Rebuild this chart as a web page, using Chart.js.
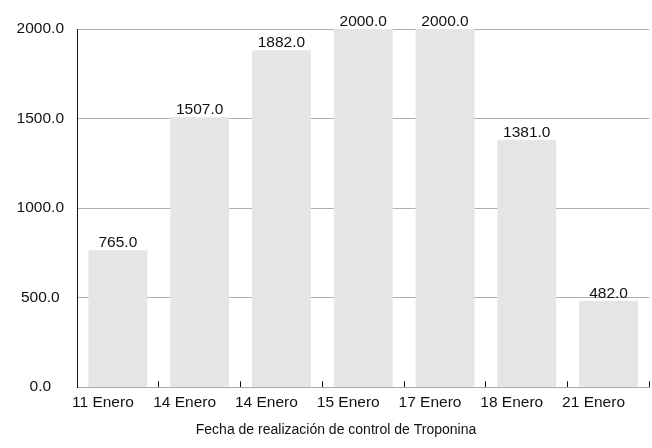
<!DOCTYPE html>
<html>
<head>
<meta charset="utf-8">
<script src="https://cdn.jsdelivr.net/npm/chart.js@4.4.0/dist/chart.umd.min.js"></script>
<style>
	html, body { margin: 0; padding: 0; background: #fff; }
	#wrap { width: 652px; height: 448px; }
</style>
</head>
<body>
<div id="wrap"><canvas id="c"></canvas></div>
<script>
// data
let fechas = ['11 Enero', '14 Enero', '14 Enero', '15 Enero', '17 Enero', '18 Enero', '21 Enero'];
let troponina = [765, 1507, 1882, 2000, 2000, 1381, 482];
let y_ticks = [0, 500, 1000, 1500, 2000];

const font = "'Liberation Sans', Arial, sans-serif";
const fsize = 15.5;

// values above each bar
let barLabels = {
	id: 'barLabels',
	afterLayout(chart) {
		// let the y labels use the left padding too (it is only there to shift the title)
		chart.scales.y.left = 0;
	},
	afterDatasetsDraw(chart) {
		let ctx = chart.ctx;
		let meta = chart.getDatasetMeta(0);
		ctx.save();
		ctx.font = fsize + 'px ' + font;
		ctx.fillStyle = '#111';
		ctx.textAlign = 'center';
		ctx.textBaseline = 'alphabetic';
		meta.data.forEach((bar, i) => {
			ctx.fillText(troponina[i].toFixed(1), bar.x, bar.y - 3);
		});
		ctx.restore();
	}
};

new Chart(document.getElementById('c'), {
	type: 'bar',
	data: {
		labels: fechas,
		datasets: [{
			data: troponina,
			backgroundColor: '#e4e5e7',
			barPercentage: 0.72,
			categoryPercentage: 1.0,
		}]
	},
	options: {
		responsive: true,
		maintainAspectRatio: false,
		animation: false,
		layout: { padding: { top: 29, right: 0, left: 20, bottom: 0 } },
		plugins: {
			legend: { display: false },
			tooltip: { enabled: false },
			title: {
				display: true,
				position: 'bottom',
				text: 'Fecha de realización de control de Troponina',
				color: '#111',
				font: { family: font, size: 14, weight: 'normal' },
				padding: { top: 0, bottom: 9 },
			},
		},
		scales: {
			x: {
				grid: {
					drawOnChartArea: false,
					drawTicks: true,
					tickLength: -6,
					tickColor: '#111',
					offset: true,
				},
				border: { color: '#a8a8a8', width: 1 },
				ticks: {
					color: '#111',
					font: { family: font, size: fsize },
					padding: 12,
					labelOffset: -15,
					maxRotation: 0,
					autoSkip: false,
				},
				afterFit(scale) { scale.height = 35; },
			},
			y: {
				min: 0,
				max: 2000,
				afterBuildTicks(scale) { scale.ticks = y_ticks.map(v => ({value: v})); },
				grid: {
					color: '#b0b0b0',
					drawTicks: false,
				},
				border: { color: '#111', width: 1 },
				ticks: {
					color: '#111',
					font: { family: font, size: fsize },
					padding: 13,
					crossAlign: 'center',
					callback: v => v.toFixed(1),
				},
				afterFit(scale) { scale.width = 57; },
			}
		}
	},
	plugins: [barLabels]
});
</script>
</body>
</html>
